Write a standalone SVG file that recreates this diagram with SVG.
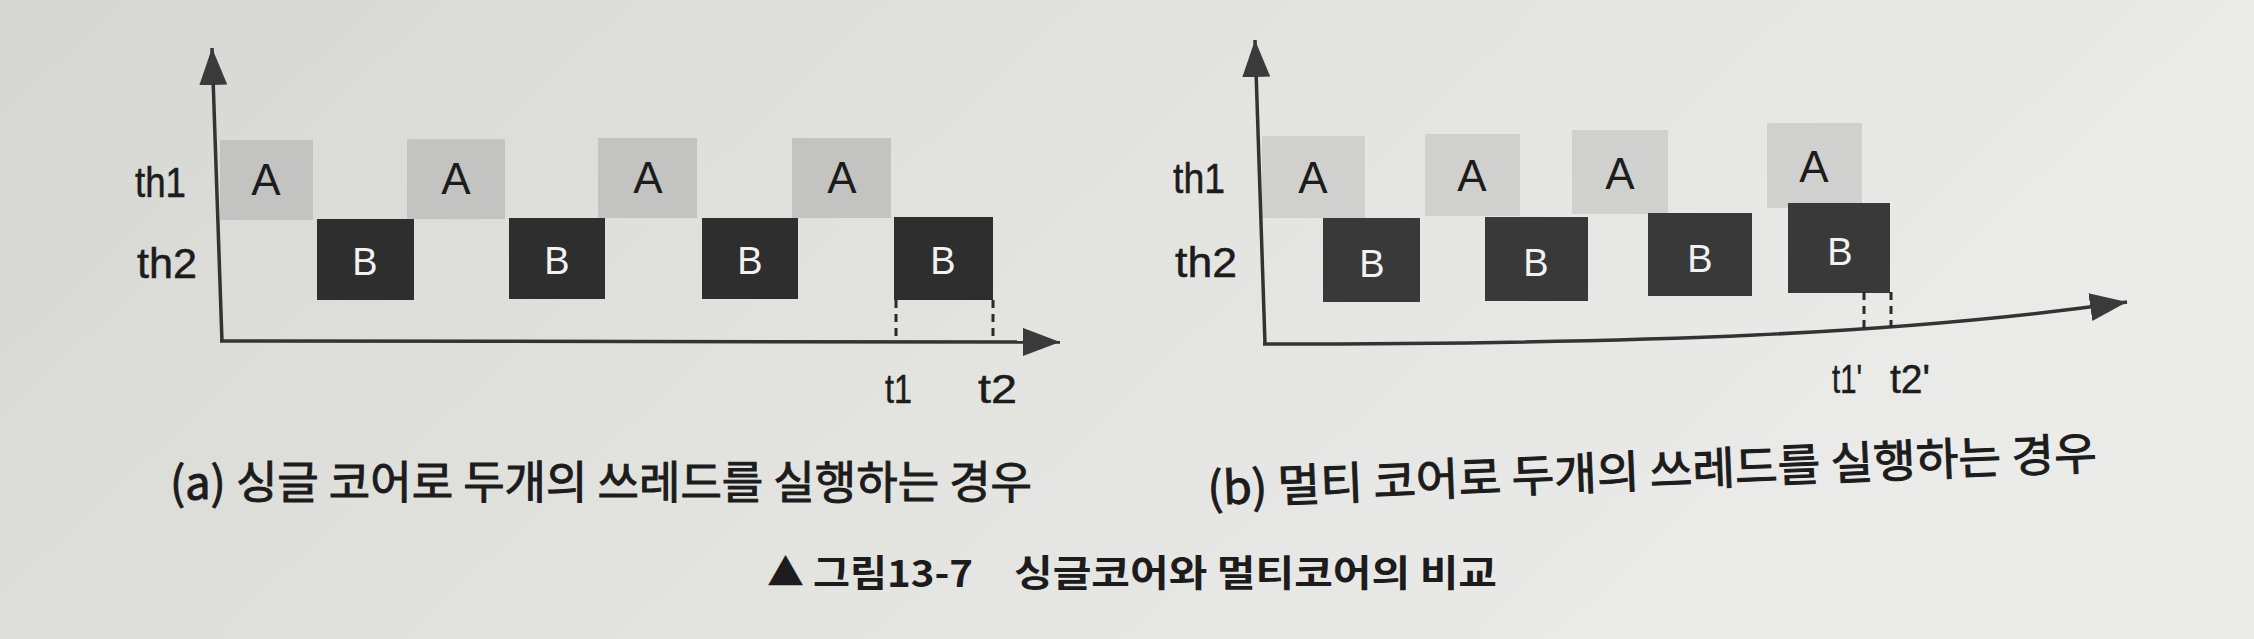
<svg xmlns="http://www.w3.org/2000/svg" width="2254" height="639" viewBox="0 0 2254 639">
  <defs>
    <linearGradient id="paper" x1="0" y1="0" x2="1" y2="0.3">
      <stop offset="0" stop-color="#d6d6d3"/>
      <stop offset="0.5" stop-color="#e2e2df"/>
      <stop offset="1" stop-color="#ebebea"/>
    </linearGradient>
    <marker id="arr" markerUnits="userSpaceOnUse" markerWidth="38" markerHeight="30" refX="37" refY="14" orient="auto">
      <path d="M0,0 L37,14 L0,28 z" fill="#3a3a3a"/>
    </marker>
    <style>
      .lat { font-family: "Liberation Sans", Arial, sans-serif; fill: #1c1c1c; stroke: #1c1c1c; stroke-width: 0.5; }
      .lbl { font-size: 43px; }
      .a { font-size: 44px; text-anchor: middle; fill: #1c1c1c; font-family: "Liberation Sans", Arial, sans-serif; }
      .b { font-size: 38px; text-anchor: middle; fill: #f2f2f2; font-family: "Liberation Sans", Arial, sans-serif; }
      .t { font-size: 41px; }
      .boxA { fill: #c3c3c1; }
      .boxA2 { fill: #d0d0ce; }
      .boxB { fill: #2f2e2e; }
      .boxB2 { fill: #3a3939; }
      .axis { stroke: #333; stroke-width: 3.5; fill: none; }
      .dash { stroke: #2a2a2a; stroke-width: 3; stroke-dasharray: 8 6; fill: none; }
      .kr { font-family: "Noto Sans CJK KR", "Liberation Sans", sans-serif; fill: #1c1c1c; }
      .cap { font-size: 45px; stroke: #1c1c1c; stroke-width: 1; }
      .title { font-size: 37px; font-weight: bold; }
    </style>
  </defs>

  <rect x="0" y="0" width="2254" height="639" fill="url(#paper)"/>

  <!-- Left chart (a) -->
  <g id="left-labels">
    <text class="lat lbl" x="135" y="197" textLength="51" lengthAdjust="spacingAndGlyphs">th1</text>
    <text class="lat lbl" x="137" y="278" textLength="60" lengthAdjust="spacingAndGlyphs">th2</text>
  </g>
  <g id="a-A1"><rect class="boxA" x="220" y="140" width="93" height="80"/><text class="a" x="266" y="195">A</text></g>
  <g id="a-A2"><rect class="boxA" x="407" y="139" width="98" height="80"/><text class="a" x="456" y="194">A</text></g>
  <g id="a-A3"><rect class="boxA" x="598" y="138" width="99" height="80"/><text class="a" x="648" y="193">A</text></g>
  <g id="a-A4"><rect class="boxA" x="792" y="138" width="99" height="80"/><text class="a" x="842" y="193">A</text></g>
  <g id="a-B1"><rect class="boxB" x="317" y="219" width="97" height="81"/><text class="b" x="365" y="275">B</text></g>
  <g id="a-B2"><rect class="boxB" x="509" y="218" width="96" height="81"/><text class="b" x="557" y="274">B</text></g>
  <g id="a-B3"><rect class="boxB" x="702" y="218" width="96" height="81"/><text class="b" x="750" y="274">B</text></g>
  <g id="a-B4"><rect class="boxB" x="894" y="217" width="99" height="83"/><text class="b" x="943" y="274">B</text></g>
  <g id="a-times">
    <text class="lat t" x="885" y="403" textLength="27" lengthAdjust="spacingAndGlyphs">t1</text>
    <text class="lat t" x="978" y="403" textLength="39" lengthAdjust="spacingAndGlyphs">t2</text>
  </g>

  <!-- Right chart (b) -->
  <g id="right-labels">
    <text class="lat lbl" x="1173" y="193" textLength="52" lengthAdjust="spacingAndGlyphs">th1</text>
    <text class="lat lbl" x="1175" y="277" textLength="62" lengthAdjust="spacingAndGlyphs">th2</text>
  </g>
  <g id="b-A1"><rect class="boxA2" x="1262" y="136" width="103" height="82"/><text class="a" x="1313" y="193">A</text></g>
  <g id="b-A2"><rect class="boxA2" x="1425" y="134" width="95" height="82"/><text class="a" x="1472" y="191">A</text></g>
  <g id="b-A3"><rect class="boxA2" x="1572" y="130" width="96" height="84"/><text class="a" x="1620" y="189">A</text></g>
  <g id="b-A4"><rect class="boxA2" x="1767" y="123" width="95" height="85"/><text class="a" x="1814" y="182">A</text></g>
  <g id="b-B1"><rect class="boxB2" x="1323" y="218" width="97" height="84"/><text class="b" x="1372" y="277">B</text></g>
  <g id="b-B2"><rect class="boxB2" x="1485" y="217" width="103" height="84"/><text class="b" x="1536" y="276">B</text></g>
  <g id="b-B3"><rect class="boxB2" x="1648" y="213" width="104" height="83"/><text class="b" x="1700" y="272">B</text></g>
  <g id="b-B4"><rect class="boxB2" x="1788" y="203" width="102" height="90"/><text class="b" x="1840" y="265">B</text></g>
  <g id="b-times">
    <text class="lat t" x="1832" y="393" textLength="30" lengthAdjust="spacingAndGlyphs">t1'</text>
    <text class="lat t" x="1890" y="393" textLength="40" lengthAdjust="spacingAndGlyphs">t2'</text>
  </g>

  <!-- Connectors: axes and dashed markers -->
  <g id="connectors">
    <line class="axis" x1="222" y1="342" x2="212" y2="48" marker-end="url(#arr)"/>
    <line class="axis" x1="220" y1="341" x2="1060" y2="342" marker-end="url(#arr)"/>
    <line class="dash" x1="896" y1="300" x2="896" y2="340"/>
    <line class="dash" x1="993" y1="300" x2="993" y2="340"/>

    <line class="axis" x1="1265" y1="344" x2="1255" y2="40" marker-end="url(#arr)"/>
    <path class="axis" d="M1263 344 C1650 344 1900 334 2127 302" marker-end="url(#arr)"/>
    <line class="dash" x1="1864" y1="292" x2="1864" y2="329"/>
    <line class="dash" x1="1891" y1="292" x2="1891" y2="327"/>
  </g>

  <!-- Captions -->
  <g id="captions">
    <text class="kr cap" x="170" y="499" textLength="862" lengthAdjust="spacingAndGlyphs">(a) 싱글 코어로 두개의 쓰레드를 실행하는 경우</text>
    <text class="kr cap" x="1208" y="505" textLength="890" lengthAdjust="spacingAndGlyphs" transform="rotate(-2.3 1208 505)">(b) 멀티 코어로 두개의 쓰레드를 실행하는 경우</text>
    <text class="kr title" x="767" y="586" font-size="30">▲</text>
    <text class="kr title" x="813" y="587" textLength="160" lengthAdjust="spacingAndGlyphs">그림13-7</text>
    <text class="kr title" x="1014" y="587" textLength="483" lengthAdjust="spacingAndGlyphs">싱글코어와 멀티코어의 비교</text>
  </g>
</svg>
